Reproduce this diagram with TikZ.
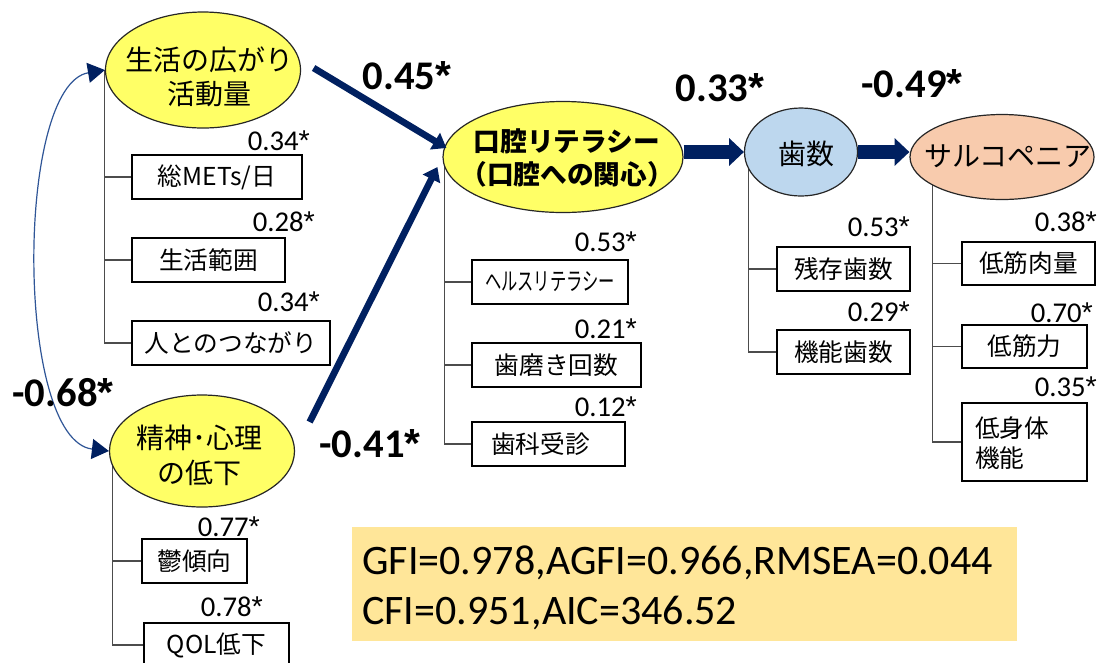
\documentclass[tikz,border=0pt]{standalone}
\usepackage{fontspec}
\usepackage{graphicx}
\usetikzlibrary{arrows.meta,shapes.geometric,calc}
\newfontfamily\jpfont{Noto Sans CJK JP}
\newfontfamily\calfont{Carlito}
\newfontfamily\astfont{Liberation Sans}
\newcommand\astk{{\astfont *}}
\definecolor{ellyellow}{HTML}{FFFF66}
\definecolor{ellblue}{HTML}{BDD7EE}
\definecolor{ellsalmon}{HTML}{F8CBAD}
\definecolor{fitbg}{HTML}{FFE699}
\definecolor{navy}{HTML}{002060}
\definecolor{curveblue}{HTML}{2F5597}
\pgfdeclarelayer{background}
\pgfsetlayers{background,main}
\begin{document}
\begin{tikzpicture}[x=0.75pt,y=-0.75pt,
  ell/.style={ellipse, draw=black!85, line width=0.9pt, inner sep=0pt},
  elltext/.style={align=center, inner sep=0pt, font=\jpfont\fontsize{21}{26}\selectfont},
  obsbox/.style={draw=black, line width=1.1pt, rectangle, inner sep=0pt, minimum height=33pt, font=\jpfont\fontsize{18.5}{22}\selectfont},
  loading/.style={anchor=east, inner sep=0pt, font=\calfont\fontsize{21.5}{25}\selectfont},
  coef/.style={inner sep=0pt, font=\calfont\bfseries\fontsize{30.5}{36}\selectfont},
  tree/.style={draw=black!70, line width=0.8pt},
  thinpath/.style={draw=navy, line width=5pt, -{Triangle[length=10pt,width=14pt]}},
  blockpath/.style={draw=navy, line width=10pt, -{Triangle[length=11pt,width=20pt]}},
  fittext/.style={anchor=base west, inner sep=0pt, font=\calfont\fontsize{31.5}{38}\selectfont}
]
\useasboundingbox (0,0) rectangle (1102,662);
\begin{pgfonlayer}{background}
\fill[white] (0,0) rectangle (1102,662);
\end{pgfonlayer}

% latent variables
\node[ell, fill=ellyellow, minimum width=146.25pt, minimum height=87pt] (e1) at (203,70) {};
\node[ell, fill=ellyellow, minimum width=138.75pt, minimum height=84pt] (e2) at (202,451) {};
\node[ell, fill=ellyellow, minimum width=180pt, minimum height=83.25pt] (e3) at (563,157) {};
\node[ell, fill=ellblue, minimum width=84.75pt, minimum height=66pt] (e4) at (801,152) {};
\node[ell, fill=ellsalmon, minimum width=138pt, minimum height=63.75pt] (e5) at (1002,157) {};

\node[elltext] (t1) at (209,77) {生活の広がり\\活動量};
\node[elltext] (t2) at (199,455) {精神･心理\\の低下};
\node[elltext, font=\jpfont\bfseries\fontsize{20}{25}\selectfont] (t3) at (567,158) {口腔リテラシー\\（口腔への関心）};
\node[elltext] (t4) at (806,154) {歯数};
\node[elltext] (t5) at (1008,156) {サルコペニア};

% observed variables
\node[obsbox, minimum width=127.5pt] (b11) at (217,177) {総METs/日};
\node[obsbox, minimum width=114.75pt] (b12) at (208.5,260) {生活範囲};
\node[obsbox, minimum width=148.5pt] (b13) at (231,343) {人とのつながり};
\node[obsbox, minimum width=78.75pt] (b21) at (194.5,561) {鬱傾向};
\node[obsbox, minimum width=108.75pt] (b22) at (216.5,645) {QOL低下};
\node[obsbox, minimum width=117pt] (b31) at (550,282) {\scalebox{0.66}[1]{ヘルスリテラシー}};
\node[obsbox, minimum width=126.75pt] (b32) at (556.5,365) {歯磨き回数};
\node[obsbox, minimum width=114.75pt] (b33) at (548.5,444) {歯科受診\hspace*{12pt}};
\node[obsbox, minimum width=99.75pt] (b41) at (843.5,269) {残存歯数};
\node[obsbox, minimum width=99.75pt] (b42) at (843.5,352) {機能歯数};
\node[obsbox, minimum width=99.75pt, minimum height=32.25pt] (b51) at (1028.5,263.5) {低筋肉量};
\node[obsbox, minimum width=93.75pt, minimum height=32.25pt] (b52) at (1024.5,346.5) {低筋力};
\node[obsbox, minimum width=93.75pt, minimum height=58.5pt] (b53) at (1024.5,442) {};
\node[anchor=west, align=left, inner sep=0pt, font=\jpfont\fontsize{18.5}{22.5}\selectfont] (t53) at (975,443) {低身体\\機能};

% tree connectors
\coordinate (s1) at (e1.west);
\coordinate (s2) at ([xshift=2.5pt]e2.west);
\coordinate (s3) at ([xshift=1.5pt]e3.west);
\coordinate (s4) at ([xshift=3.4pt]e4.west);
\coordinate (s5) at ([xshift=17.25pt]e5.west);
\begin{pgfonlayer}{background}
\draw[tree] (s1) |- (b13.west);
\draw[tree] (s1 |- b11.west) -- (b11.west);
\draw[tree] (s1 |- b12.west) -- (b12.west);
\draw[tree] (s2) |- (b22.west);
\draw[tree] (s2 |- b21.west) -- (b21.west);
\draw[tree] (s3) |- (b33.west);
\draw[tree] (s3 |- b31.west) -- (b31.west);
\draw[tree] (s3 |- b32.west) -- (b32.west);
\draw[tree] (s4) |- (b42.west);
\draw[tree] (s4 |- b41.west) -- (b41.west);
\draw[tree] (s5) |- (b53.west);
\draw[tree] (s5 |- b51.west) -- (b51.west);
\draw[tree] (s5 |- b52.west) -- (b52.west);
\end{pgfonlayer}

% loadings
\node[loading] (l11) at (310,141) {0.34\astk};
\node[loading] (l12) at (315,222) {0.28\astk};
\node[loading] (l13) at (320,302) {0.34\astk};
\node[loading] (l21) at (260,527) {0.77\astk};
\node[loading] (l22) at (263,607) {0.78\astk};
\node[loading] (l31) at (637,242) {0.53\astk};
\node[loading] (l32) at (637,329) {0.21\astk};
\node[loading] (l33) at (637,407) {0.12\astk};
\node[loading] (l41) at (910,227) {0.53\astk};
\node[loading] (l42) at (910,312) {0.29\astk};
\node[loading] (l51) at (1097,222) {0.38\astk};
\node[loading] (l52) at (1093,313) {0.70\astk};
\node[loading] (l53) at (1097,387) {0.35\astk};

% structural paths
\draw[thinpath] ([xshift=9.4pt,yshift=1.5pt]e1.east) -- ([xshift=3pt,yshift=6.75pt]e3.west);
\draw[thinpath] ([xshift=10.9pt,yshift=21.75pt]e2.east) -- ([xshift=-3.75pt,yshift=-7.5pt]e3.west);
\draw[blockpath] (e3.east |- e4.west) -- (e4.west);
\draw[blockpath] (e4.east) -- (e4.east -| e5.west);
\draw[curveblue, line width=0.9pt, {Triangle[length=12.75pt,width=15pt,color=navy]}-{Triangle[length=12.75pt,width=15pt,color=navy]}] (e1.west) .. controls (15,85) and (15,440) .. (e2.west);

% coefficients
\node[coef] (c1) at (407,76) {0.45\astk};
\node[coef] (c2) at (370,444) {-0.41\astk};
\node[coef] (c3) at (720,88) {0.33\astk};
\node[coef] (c4) at (912,84) {-0.49\astk};
\node[coef] (c5) at (63,393) {-0.68\astk};

% fit indices
\node[fill=fitbg, minimum width=498.75pt, minimum height=85.5pt, inner sep=0pt] (fit) at (684.5,584) {};
\node[fittext] (f1) at (362,574) {GFI=0.978,AGFI=0.966,RMSEA=0.044};
\node[fittext] (f2) at (362,624) {CFI=0.951,AIC=346.52};
\end{tikzpicture}
\end{document}
